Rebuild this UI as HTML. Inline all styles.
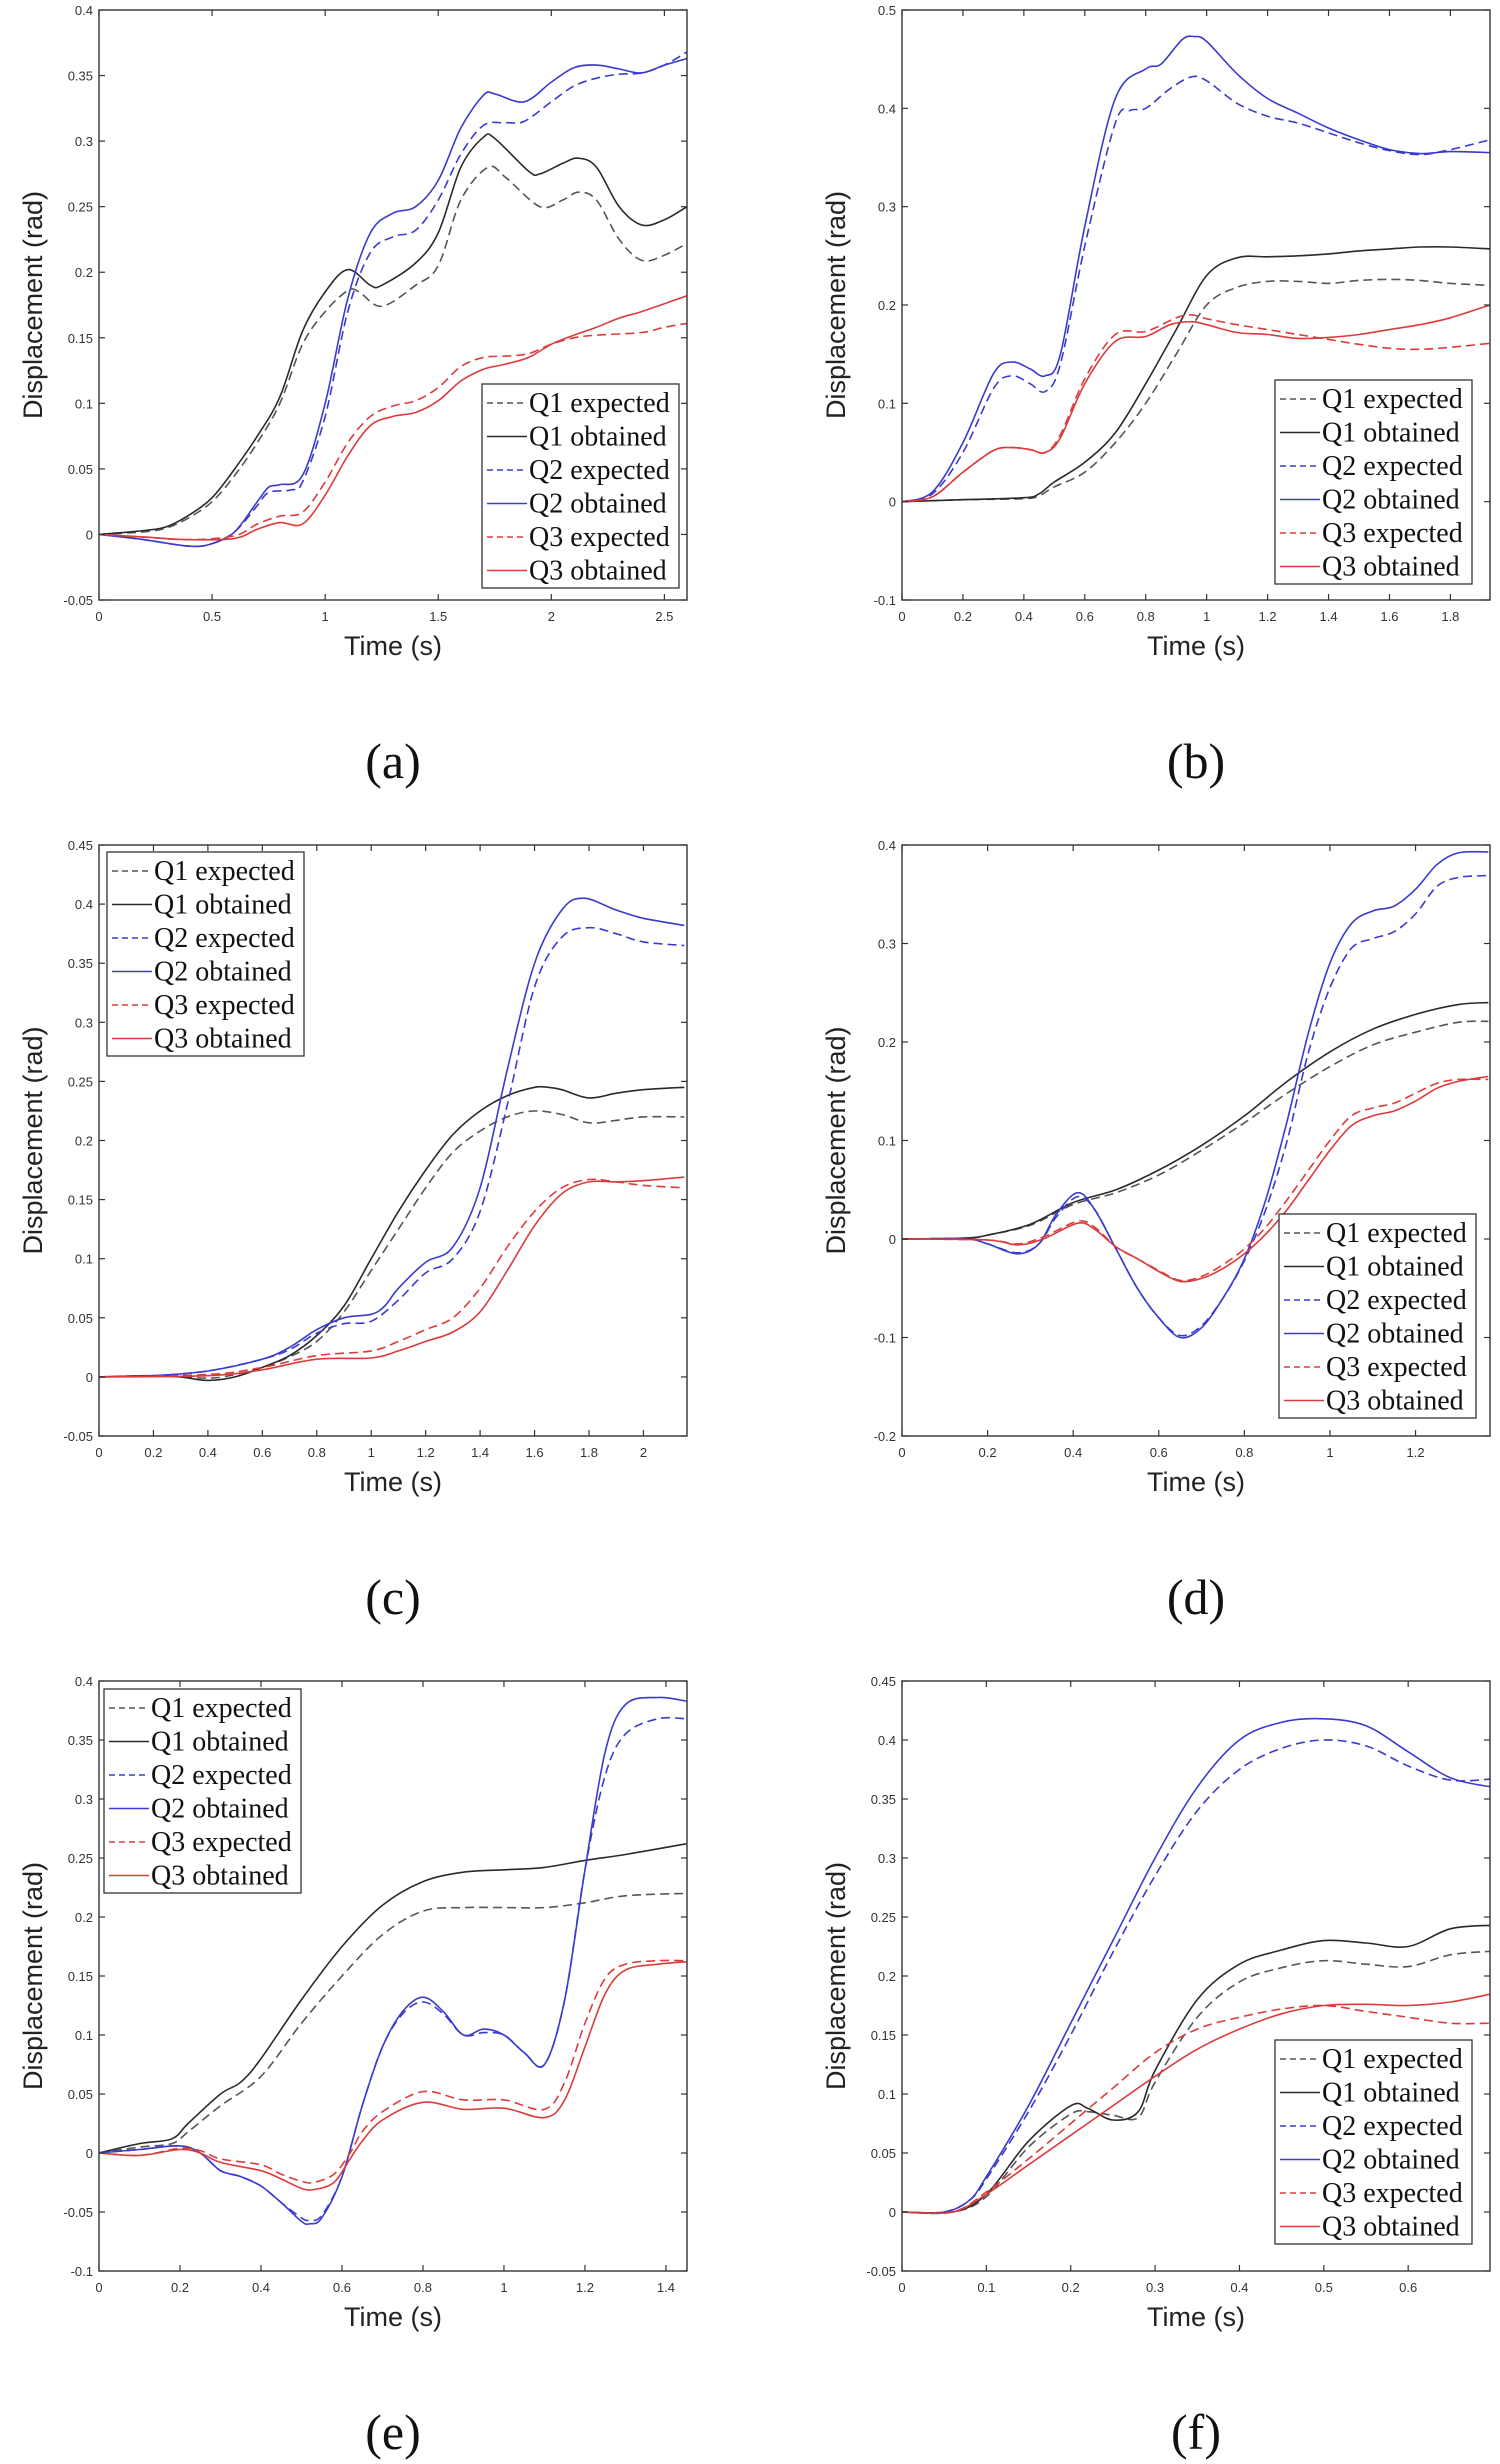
<!DOCTYPE html>
<html><head><meta charset="utf-8"><style>
html,body{margin:0;padding:0;background:#fff}
svg{display:block}
</style></head><body>
<svg id="fig" width="1500" height="2464" viewBox="0 0 1500 2464" xmlns="http://www.w3.org/2000/svg"></svg>
<script>
// ---- Panel (a) data ----
const aQ1eT=[0,0.2,0.3,0.4,0.5,0.6,0.7,0.8,0.9,1.0,1.1,1.15,1.25,1.4,1.5,1.6,1.72,1.8,1.95,2.05,2.12,2.2,2.3,2.4,2.5,2.6];
const aQ1eV=[0,0.002,0.005,0.013,0.025,0.045,0.07,0.1,0.145,0.17,0.186,0.185,0.174,0.19,0.205,0.255,0.28,0.272,0.25,0.255,0.261,0.255,0.225,0.209,0.213,0.222];
const aQ1oT=[0,0.2,0.3,0.4,0.5,0.6,0.7,0.8,0.9,1.0,1.1,1.2,1.25,1.4,1.5,1.6,1.7,1.75,1.9,1.95,2.05,2.12,2.2,2.3,2.4,2.5,2.6];
const aQ1oV=[0,0.003,0.006,0.015,0.028,0.05,0.075,0.105,0.155,0.185,0.202,0.19,0.19,0.207,0.23,0.28,0.303,0.302,0.277,0.275,0.283,0.287,0.28,0.25,0.236,0.24,0.25];
const aQ2eT=[0,0.2,0.4,0.5,0.6,0.7,0.75,0.85,0.9,1.0,1.1,1.2,1.3,1.4,1.5,1.6,1.7,1.8,1.88,2.0,2.1,2.2,2.3,2.4,2.5,2.6];
const aQ2eV=[0,-0.004,-0.009,-0.007,0.002,0.022,0.032,0.034,0.04,0.09,0.17,0.215,0.227,0.232,0.255,0.29,0.312,0.314,0.315,0.33,0.342,0.348,0.351,0.352,0.358,0.368];
const aQ2oT=[0,0.2,0.4,0.5,0.6,0.7,0.75,0.8,0.9,1.0,1.1,1.2,1.3,1.4,1.5,1.6,1.7,1.75,1.88,2.0,2.1,2.2,2.3,2.4,2.5,2.6];
const aQ2oV=[0,-0.004,-0.009,-0.007,0.002,0.025,0.036,0.038,0.045,0.1,0.18,0.23,0.245,0.25,0.27,0.31,0.335,0.336,0.33,0.345,0.356,0.358,0.355,0.352,0.358,0.363];
const aQ3eT=[0,0.2,0.4,0.6,0.7,0.8,0.9,1.0,1.1,1.2,1.3,1.4,1.5,1.6,1.7,1.8,1.9,2.0,2.1,2.2,2.4,2.5,2.6];
const aQ3eV=[0,-0.002,-0.004,-0.001,0.008,0.014,0.017,0.04,0.07,0.09,0.098,0.102,0.112,0.128,0.135,0.136,0.138,0.145,0.15,0.152,0.154,0.158,0.161];
const aQ3oT=[0,0.2,0.4,0.6,0.7,0.8,0.9,1.0,1.1,1.2,1.3,1.4,1.5,1.6,1.7,1.8,1.9,2.0,2.1,2.2,2.3,2.4,2.5,2.6];
const aQ3oV=[0,-0.002,-0.004,-0.003,0.004,0.009,0.008,0.03,0.06,0.083,0.09,0.093,0.102,0.117,0.126,0.13,0.135,0.145,0.152,0.158,0.165,0.17,0.176,0.182];
// ---- Panel (b) data ----
const bQ1eT=[0,0.2,0.4,0.45,0.5,0.6,0.7,0.8,0.9,1.0,1.1,1.2,1.3,1.4,1.5,1.6,1.7,1.8,1.93];
const bQ1eV=[0,0.002,0.003,0.006,0.015,0.03,0.06,0.1,0.15,0.2,0.218,0.224,0.224,0.222,0.225,0.226,0.225,0.222,0.22];
const bQ1oT=[0,0.2,0.4,0.45,0.5,0.6,0.7,0.8,0.9,1.0,1.1,1.2,1.3,1.4,1.5,1.6,1.7,1.8,1.93];
const bQ1oV=[0,0.002,0.004,0.008,0.02,0.04,0.07,0.12,0.175,0.23,0.248,0.249,0.25,0.252,0.255,0.257,0.259,0.259,0.257];
const bQ2eT=[0,0.1,0.2,0.3,0.36,0.42,0.47,0.52,0.6,0.7,0.75,0.8,0.88,0.95,1.0,1.1,1.2,1.3,1.4,1.5,1.6,1.7,1.8,1.93];
const bQ2eV=[0,0.008,0.05,0.115,0.128,0.12,0.112,0.14,0.26,0.385,0.398,0.4,0.42,0.432,0.428,0.405,0.392,0.385,0.375,0.365,0.357,0.353,0.358,0.368];
const bQ2oT=[0,0.1,0.2,0.3,0.36,0.42,0.47,0.52,0.6,0.7,0.8,0.85,0.92,0.96,1.0,1.1,1.2,1.3,1.4,1.5,1.6,1.7,1.8,1.93];
const bQ2oV=[0,0.01,0.06,0.13,0.142,0.135,0.128,0.15,0.28,0.41,0.44,0.445,0.47,0.473,0.468,0.435,0.41,0.395,0.38,0.368,0.358,0.354,0.356,0.355];
const bQ3eT=[0,0.1,0.2,0.3,0.36,0.42,0.47,0.52,0.6,0.7,0.8,0.9,0.95,1.0,1.1,1.2,1.3,1.4,1.5,1.6,1.7,1.8,1.93];
const bQ3eV=[0,0.005,0.03,0.052,0.055,0.053,0.05,0.068,0.125,0.17,0.173,0.187,0.19,0.186,0.18,0.175,0.17,0.165,0.16,0.156,0.155,0.157,0.161];
const bQ3oT=[0,0.1,0.2,0.3,0.36,0.42,0.47,0.52,0.6,0.7,0.8,0.88,0.95,1.0,1.1,1.2,1.3,1.4,1.5,1.6,1.7,1.8,1.93];
const bQ3oV=[0,0.005,0.03,0.052,0.055,0.053,0.05,0.065,0.12,0.163,0.168,0.18,0.183,0.18,0.172,0.17,0.166,0.167,0.17,0.175,0.18,0.187,0.2];
// ---- Panel (c) data ----
const cQ1eT=[0,0.2,0.4,0.5,0.6,0.7,0.8,0.9,1.0,1.1,1.2,1.3,1.4,1.5,1.6,1.7,1.8,1.9,2.0,2.15];
const cQ1eV=[0,0.001,-0.001,0.002,0.008,0.017,0.03,0.055,0.09,0.125,0.16,0.19,0.208,0.22,0.225,0.222,0.215,0.217,0.22,0.22];
const cQ1oT=[0,0.2,0.3,0.4,0.5,0.6,0.7,0.8,0.9,1.0,1.1,1.2,1.3,1.4,1.5,1.6,1.65,1.7,1.8,1.9,2.0,2.15];
const cQ1oV=[0,0.001,0,-0.003,0,0.008,0.018,0.035,0.06,0.1,0.14,0.175,0.205,0.225,0.238,0.245,0.245,0.243,0.236,0.24,0.243,0.245];
const cQ2eT=[0,0.2,0.4,0.6,0.7,0.8,0.9,1.0,1.1,1.2,1.3,1.4,1.5,1.6,1.7,1.8,1.9,2.0,2.15];
const cQ2eV=[0,0.001,0.005,0.015,0.023,0.037,0.045,0.047,0.065,0.088,0.1,0.14,0.23,0.33,0.372,0.38,0.375,0.368,0.365];
const cQ2oT=[0,0.2,0.4,0.6,0.7,0.8,0.9,1.0,1.05,1.1,1.2,1.3,1.4,1.5,1.6,1.7,1.78,1.9,2.0,2.15];
const cQ2oV=[0,0.001,0.005,0.015,0.025,0.04,0.05,0.053,0.06,0.075,0.097,0.11,0.16,0.26,0.35,0.395,0.405,0.395,0.388,0.382];
const cQ3eT=[0,0.4,0.6,0.8,1.0,1.1,1.2,1.3,1.4,1.5,1.6,1.7,1.8,1.9,2.0,2.15];
const cQ3eV=[0,0.002,0.008,0.018,0.022,0.03,0.04,0.05,0.075,0.11,0.14,0.16,0.167,0.165,0.162,0.16];
const cQ3oT=[0,0.4,0.6,0.8,1.0,1.1,1.2,1.3,1.4,1.5,1.6,1.7,1.8,1.9,2.0,2.15];
const cQ3oV=[0,0.001,0.006,0.015,0.016,0.022,0.03,0.038,0.055,0.09,0.128,0.155,0.165,0.165,0.166,0.169];
// ---- Panel (d) data ----
const dQ1eT=[0,0.15,0.2,0.3,0.4,0.5,0.6,0.7,0.8,0.9,1.0,1.1,1.2,1.3,1.37];
const dQ1eV=[0,0.001,0.004,0.014,0.035,0.047,0.065,0.09,0.118,0.148,0.175,0.197,0.21,0.22,0.221];
const dQ1oT=[0,0.15,0.2,0.3,0.4,0.5,0.6,0.7,0.8,0.9,1.0,1.1,1.2,1.3,1.37];
const dQ1oV=[0,0.001,0.004,0.015,0.037,0.05,0.07,0.095,0.125,0.16,0.19,0.213,0.228,0.238,0.24];
const dQ2eT=[0,0.15,0.2,0.27,0.32,0.36,0.41,0.45,0.5,0.55,0.6,0.65,0.7,0.75,0.8,0.85,0.9,0.95,1.0,1.05,1.1,1.15,1.2,1.25,1.3,1.37];
const dQ2eV=[0,0,-0.005,-0.014,-0.005,0.022,0.043,0.03,-0.01,-0.05,-0.08,-0.098,-0.088,-0.06,-0.022,0.03,0.1,0.19,0.255,0.295,0.305,0.312,0.33,0.358,0.367,0.369];
const dQ2oT=[0,0.15,0.2,0.27,0.32,0.36,0.41,0.45,0.5,0.55,0.6,0.65,0.7,0.75,0.8,0.85,0.9,0.95,1.0,1.05,1.1,1.15,1.2,1.25,1.3,1.37];
const dQ2oV=[0,0,-0.005,-0.015,-0.005,0.025,0.047,0.03,-0.01,-0.05,-0.08,-0.1,-0.09,-0.06,-0.02,0.04,0.12,0.21,0.28,0.32,0.333,0.338,0.355,0.38,0.392,0.393];
const dQ3eT=[0,0.2,0.27,0.33,0.41,0.45,0.5,0.55,0.6,0.65,0.7,0.75,0.8,0.85,0.9,0.95,1.0,1.05,1.1,1.15,1.2,1.25,1.3,1.37];
const dQ3eV=[0,-0.001,-0.005,0.002,0.018,0.012,-0.008,-0.02,-0.032,-0.042,-0.038,-0.026,-0.01,0.012,0.04,0.07,0.1,0.125,0.133,0.138,0.148,0.158,0.162,0.162];
const dQ3oT=[0,0.2,0.27,0.33,0.41,0.45,0.5,0.55,0.6,0.65,0.7,0.75,0.8,0.85,0.9,0.95,1.0,1.05,1.1,1.15,1.2,1.25,1.3,1.37];
const dQ3oV=[0,-0.001,-0.006,0,0.016,0.01,-0.008,-0.02,-0.033,-0.043,-0.04,-0.03,-0.015,0.005,0.03,0.06,0.09,0.115,0.125,0.13,0.14,0.153,0.16,0.165];
// ---- Panel (e) data ----
const eQ1eT=[0,0.1,0.18,0.22,0.3,0.4,0.5,0.6,0.7,0.8,0.9,1.0,1.1,1.2,1.3,1.45];
const eQ1eV=[0,0.005,0.008,0.018,0.04,0.065,0.11,0.15,0.185,0.205,0.208,0.208,0.208,0.212,0.218,0.22];
const eQ1oT=[0,0.1,0.18,0.22,0.3,0.35,0.4,0.5,0.6,0.7,0.8,0.9,1.0,1.1,1.2,1.3,1.45];
const eQ1oV=[0,0.008,0.012,0.025,0.05,0.06,0.08,0.13,0.175,0.21,0.23,0.238,0.24,0.242,0.248,0.253,0.262];
const eQ2eT=[0,0.1,0.2,0.25,0.3,0.35,0.4,0.45,0.5,0.52,0.55,0.6,0.65,0.7,0.75,0.8,0.85,0.9,0.95,1.0,1.05,1.1,1.15,1.2,1.25,1.3,1.38,1.45];
const eQ2eV=[0,0.003,0.006,0,-0.015,-0.02,-0.028,-0.042,-0.055,-0.057,-0.053,-0.02,0.04,0.09,0.118,0.128,0.118,0.1,0.102,0.1,0.085,0.075,0.13,0.24,0.32,0.355,0.368,0.368];
const eQ2oT=[0,0.1,0.2,0.25,0.3,0.35,0.4,0.45,0.5,0.52,0.55,0.6,0.65,0.7,0.75,0.8,0.85,0.9,0.95,1.0,1.05,1.1,1.15,1.2,1.25,1.3,1.38,1.45];
const eQ2oV=[0,0.003,0.006,0,-0.015,-0.02,-0.028,-0.042,-0.058,-0.06,-0.055,-0.02,0.04,0.09,0.12,0.132,0.12,0.1,0.105,0.1,0.085,0.075,0.13,0.24,0.34,0.38,0.386,0.383];
const eQ3eT=[0,0.1,0.2,0.25,0.3,0.4,0.45,0.5,0.53,0.58,0.62,0.65,0.7,0.8,0.9,1.0,1.1,1.15,1.2,1.25,1.3,1.38,1.45];
const eQ3eV=[0,-0.002,0.004,0.002,-0.005,-0.01,-0.018,-0.024,-0.025,-0.018,0,0.018,0.035,0.052,0.045,0.045,0.037,0.06,0.11,0.148,0.16,0.163,0.163];
const eQ3oT=[0,0.1,0.2,0.25,0.3,0.4,0.45,0.5,0.53,0.58,0.62,0.65,0.7,0.8,0.9,1.0,1.1,1.15,1.2,1.25,1.3,1.38,1.45];
const eQ3oV=[0,-0.002,0.003,0,-0.008,-0.015,-0.022,-0.03,-0.031,-0.025,-0.005,0.01,0.028,0.043,0.037,0.038,0.03,0.045,0.09,0.135,0.155,0.16,0.162];
// ---- Panel (f) data ----
const fQ1eT=[0,0.06,0.1,0.15,0.2,0.22,0.25,0.28,0.3,0.35,0.4,0.45,0.5,0.55,0.6,0.65,0.7];
const fQ1eV=[0,0,0.013,0.055,0.083,0.085,0.082,0.08,0.11,0.165,0.195,0.207,0.213,0.21,0.208,0.218,0.221];
const fQ1oT=[0,0.06,0.1,0.15,0.2,0.22,0.25,0.28,0.3,0.35,0.4,0.45,0.5,0.55,0.6,0.65,0.7];
const fQ1oV=[0,0,0.015,0.06,0.09,0.088,0.078,0.085,0.12,0.18,0.21,0.222,0.23,0.228,0.225,0.24,0.243];
const fQ2eT=[0,0.05,0.08,0.1,0.15,0.2,0.25,0.3,0.35,0.4,0.45,0.5,0.55,0.6,0.65,0.7];
const fQ2eV=[0,0,0.01,0.028,0.085,0.15,0.22,0.285,0.34,0.375,0.393,0.4,0.395,0.378,0.366,0.367];
const fQ2oT=[0,0.05,0.08,0.1,0.15,0.2,0.25,0.3,0.35,0.4,0.45,0.5,0.55,0.6,0.65,0.7];
const fQ2oV=[0,0,0.01,0.03,0.09,0.16,0.23,0.3,0.36,0.4,0.415,0.418,0.412,0.39,0.368,0.36];
const fQ3eT=[0,0.06,0.1,0.15,0.2,0.25,0.3,0.35,0.4,0.45,0.5,0.55,0.6,0.65,0.7];
const fQ3eV=[0,0,0.017,0.045,0.075,0.105,0.135,0.155,0.165,0.172,0.175,0.17,0.165,0.16,0.16];
const fQ3oT=[0,0.06,0.1,0.15,0.2,0.25,0.3,0.35,0.4,0.45,0.5,0.55,0.6,0.65,0.7];
const fQ3oV=[0,0,0.015,0.04,0.065,0.09,0.115,0.138,0.155,0.168,0.175,0.176,0.175,0.178,0.185];
// ---- Axis tick labels ----
const aXTicks=["0","0.5","1","1.5","2","2.5"];
const aYTicks=["-0.05","0","0.05","0.1","0.15","0.2","0.25","0.3","0.35","0.4"];
const bXTicks=["0","0.2","0.4","0.6","0.8","1","1.2","1.4","1.6","1.8"];
const bYTicks=["-0.1","0","0.1","0.2","0.3","0.4","0.5"];
const cXTicks=["0","0.2","0.4","0.6","0.8","1","1.2","1.4","1.6","1.8","2"];
const cYTicks=["-0.05","0","0.05","0.1","0.15","0.2","0.25","0.3","0.35","0.4","0.45"];
const dXTicks=["0","0.2","0.4","0.6","0.8","1","1.2"];
const dYTicks=["-0.2","-0.1","0","0.1","0.2","0.3","0.4"];
const eXTicks=["0","0.2","0.4","0.6","0.8","1","1.2","1.4"];
const eYTicks=["-0.1","-0.05","0","0.05","0.1","0.15","0.2","0.25","0.3","0.35","0.4"];
const fXTicks=["0","0.1","0.2","0.3","0.4","0.5","0.6"];
const fYTicks=["-0.05","0","0.05","0.1","0.15","0.2","0.25","0.3","0.35","0.4","0.45"];
const legendLabels=["Q1 expected","Q1 obtained","Q2 expected","Q2 obtained","Q3 expected","Q3 obtained"];

const NS="http://www.w3.org/2000/svg";
const svg=document.getElementById('fig');
function mk(tag,attrs,parent){const e=document.createElementNS(NS,tag);for(const k in attrs)e.setAttribute(k,attrs[k]);(parent||svg).appendChild(e);return e;}

const COL={k:'#2a2a2a',ke:'#555555',b:'#3a3ad0',r:'#dd3b3b'};
const styles=[
 {c:COL.ke,d:'9,5'},{c:COL.k,d:''},
 {c:COL.b,d:'9,5'},{c:COL.b,d:''},
 {c:COL.r,d:'9,5'},{c:COL.r,d:''}];

function smoothPath(pts){
  let d='M'+pts[0][0].toFixed(1)+','+pts[0][1].toFixed(1);
  for(let i=0;i<pts.length-1;i++){
    const p0=pts[Math.max(0,i-1)],p1=pts[i],p2=pts[i+1],p3=pts[Math.min(pts.length-1,i+2)];
    const c1=[p1[0]+(p2[0]-p0[0])/6,p1[1]+(p2[1]-p0[1])/6];
    const c2=[p2[0]-(p3[0]-p1[0])/6,p2[1]-(p3[1]-p1[1])/6];
    d+=' C'+c1[0].toFixed(1)+','+c1[1].toFixed(1)+' '+c2[0].toFixed(1)+','+c2[1].toFixed(1)+' '+p2[0].toFixed(1)+','+p2[1].toFixed(1);
  }
  return d;
}

function panel(p){
  const g=mk('g',{});
  
  
  const X=v=>p.x0+(v-p.xmin)/(p.xmax-p.xmin)*(p.x1-p.x0);
  const Y=v=>p.y1-(v-p.ymin)/(p.ymax-p.ymin)*(p.y1-p.y0);
  // series
  const sg=mk('g',{'clip-path':'url(#clip'+p.id+')'},g);
  const cp=mk('clipPath',{id:'clip'+p.id},g);
  mk('rect',{x:p.x0,y:p.y0,width:p.x1-p.x0,height:p.y1-p.y0},cp);
  p.series.forEach((s,i)=>{
    const pts=s[0].map((t,j)=>[X(t),Y(s[1][j])]);
    const path=mk('path',{d:smoothPath(pts),fill:'none',stroke:styles[i].c,'stroke-width':1.6,'stroke-dasharray':styles[i].d},sg);
    
    
  });
  // frame
  const fr=mk('rect',{x:p.x0,y:p.y0,width:p.x1-p.x0,height:p.y1-p.y0,fill:'none',stroke:'#333','stroke-width':1.4},g);
  
  
  // ticks
  p.xt.forEach(l=>{
    const x=X(parseFloat(l));
    mk('line',{x1:x,y1:p.y1,x2:x,y2:p.y1-6,stroke:'#333','stroke-width':1.2},g);
    mk('line',{x1:x,y1:p.y0,x2:x,y2:p.y0+6,stroke:'#333','stroke-width':1.2},g);
    const t=mk('text',{x:x,y:p.y1+21,'text-anchor':'middle','font-size':13,fill:'#333','font-family':'Liberation Sans, Arial, sans-serif'},g);
    t.textContent=l;
    
    
  });
  p.yt.forEach(l=>{
    const y=Y(parseFloat(l));
    mk('line',{x1:p.x0,y1:y,x2:p.x0+6,y2:y,stroke:'#333','stroke-width':1.2},g);
    mk('line',{x1:p.x1,y1:y,x2:p.x1-6,y2:y,stroke:'#333','stroke-width':1.2},g);
    const t=mk('text',{x:p.x0-6,y:y+5,'text-anchor':'end','font-size':13,fill:'#333','font-family':'Liberation Sans, Arial, sans-serif'},g);
    t.textContent=l;
    
    
  });
  const cx=(p.x0+p.x1)/2, cy=(p.y0+p.y1)/2;
  const xl=mk('text',{x:cx,y:p.y1+55,'text-anchor':'middle','font-size':27,fill:'#222','font-family':'Liberation Sans, Arial, sans-serif'},g);
  xl.textContent='Time (s)';
  
  
  const yl=mk('text',{x:0,y:0,'text-anchor':'middle','font-size':27,fill:'#222','font-family':'Liberation Sans, Arial, sans-serif',transform:'translate('+(p.x0-57)+','+cy+') rotate(-90)'},g);
  yl.textContent='Displacement (rad)';
  
  
  // legend
  const lg=mk('g',{},g);
  
  
  mk('rect',{x:p.lx,y:p.ly,width:197,height:204,fill:'#fff',stroke:'#333','stroke-width':1.3},lg);
  legendLabels.forEach((lab,i)=>{
    const yy=p.ly+19+i*33.5;
    mk('line',{x1:p.lx+5,y1:yy,x2:p.lx+45,y2:yy,stroke:styles[i].c,'stroke-width':1.5,'stroke-dasharray':styles[i].d?'6,4':''},lg);
    const t=mk('text',{x:p.lx+47,y:yy+9,'font-size':28,fill:'#111','font-family':'Liberation Serif, Times New Roman, serif'},lg);
    t.textContent=lab;
    
    
  });
  const cap=mk('text',{x:cx,y:p.y1+178,'text-anchor':'middle','font-size':50,fill:'#111','font-family':'Liberation Serif, Times New Roman, serif'},g);
  cap.textContent='('+p.id+')';
  
  
}

const L={x0:99,x1:687}, R={x0:902,x1:1490};
const R1={y0:10,y1:600}, R2={y0:845,y1:1436}, R3={y0:1681,y1:2271};

panel({id:'a',...L,...R1,xmin:0,xmax:2.6,ymin:-0.05,ymax:0.4,xt:aXTicks,yt:aYTicks,lx:482,ly:384,
 series:[[aQ1eT,aQ1eV],[aQ1oT,aQ1oV],[aQ2eT,aQ2eV],[aQ2oT,aQ2oV],[aQ3eT,aQ3eV],[aQ3oT,aQ3oV]]});
panel({id:'b',...R,...R1,xmin:0,xmax:1.93,ymin:-0.1,ymax:0.5,xt:bXTicks,yt:bYTicks,lx:1275,ly:380,
 series:[[bQ1eT,bQ1eV],[bQ1oT,bQ1oV],[bQ2eT,bQ2eV],[bQ2oT,bQ2oV],[bQ3eT,bQ3eV],[bQ3oT,bQ3oV]]});
panel({id:'c',...L,...R2,xmin:0,xmax:2.16,ymin:-0.05,ymax:0.45,xt:cXTicks,yt:cYTicks,lx:107,ly:852,
 series:[[cQ1eT,cQ1eV],[cQ1oT,cQ1oV],[cQ2eT,cQ2eV],[cQ2oT,cQ2oV],[cQ3eT,cQ3eV],[cQ3oT,cQ3oV]]});
panel({id:'d',...R,...R2,xmin:0,xmax:1.374,ymin:-0.2,ymax:0.4,xt:dXTicks,yt:dYTicks,lx:1279,ly:1214,
 series:[[dQ1eT,dQ1eV],[dQ1oT,dQ1oV],[dQ2eT,dQ2eV],[dQ2oT,dQ2oV],[dQ3eT,dQ3eV],[dQ3oT,dQ3oV]]});
panel({id:'e',...L,...R3,xmin:0,xmax:1.452,ymin:-0.1,ymax:0.4,xt:eXTicks,yt:eYTicks,lx:104,ly:1689,
 series:[[eQ1eT,eQ1eV],[eQ1oT,eQ1oV],[eQ2eT,eQ2eV],[eQ2oT,eQ2oV],[eQ3eT,eQ3eV],[eQ3oT,eQ3oV]]});
panel({id:'f',...R,...R3,xmin:0,xmax:0.697,ymin:-0.05,ymax:0.45,xt:fXTicks,yt:fYTicks,lx:1275,ly:2040,
 series:[[fQ1eT,fQ1eV],[fQ1oT,fQ1oV],[fQ2eT,fQ2eV],[fQ2oT,fQ2oV],[fQ3eT,fQ3eV],[fQ3oT,fQ3oV]]});
</script>
</body></html>
